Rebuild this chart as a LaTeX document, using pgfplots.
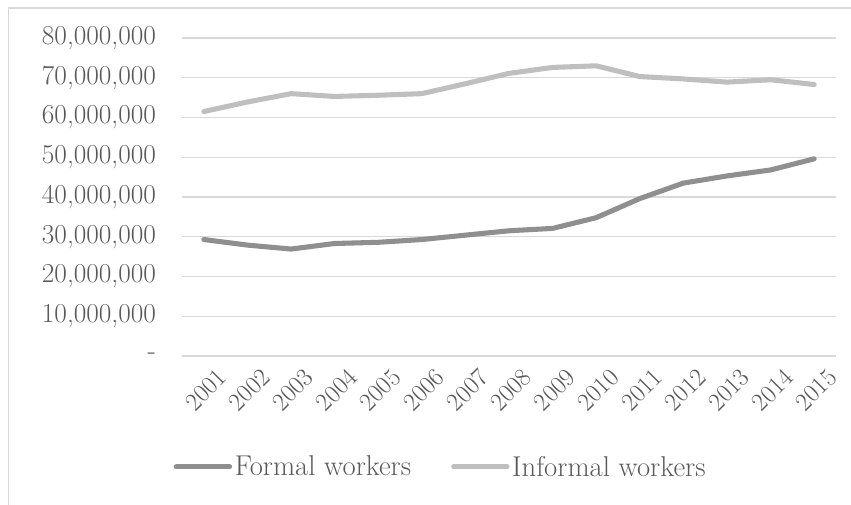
\documentclass[border=0pt]{standalone}
\usepackage{pgfplots}
\pgfplotsset{compat=1.18}

\definecolor{txtgray}{HTML}{595959}
\definecolor{gridgray}{HTML}{D9D9D9}
\definecolor{formal}{HTML}{8F8F8F}
\definecolor{informal}{HTML}{BFBFBF}

% workers per year, 2001..2015 at x = 0..14
\pgfplotstableread{
x formal informal
0  29300000 61500000
1  27900000 63900000
2  26900000 66000000
3  28300000 65300000
4  28600000 65600000
5  29300000 66000000
6  30400000 68500000
7  31500000 71100000
8  32100000 72600000
9  34800000 73000000
10 39600000 70300000
11 43500000 69700000
12 45300000 68900000
13 46800000 69500000
14 49600000 68300000
}\workers

\begin{document}
\begin{tikzpicture}
% 1 px of the reference = 0.75pt
\useasboundingbox (0pt,0pt) rectangle (638.25pt,378.75pt);
\draw[gridgray, line width=1.2pt] (6.4pt,0pt) -- (6.4pt,372.75pt) -- (638.25pt,372.75pt);
\begin{axis}[
    at={(136.5pt,111.75pt)}, anchor=south west,
    scale only axis,
    width=490.5pt, height=238.5pt,
    xmin=-0.5, xmax=14.5,
    ymin=0, ymax=80000000,
    axis line style={draw=none},
    major tick length=0pt,
    xtick={0,...,14},
    xticklabels={2001,2002,2003,2004,2005,2006,2007,2008,2009,2010,2011,2012,2013,2014,2015},
    xticklabel style={rotate=45, anchor=north east, xshift=4pt, yshift=-9pt,
        font=\fontsize{19}{22}\selectfont},
    ytick={0,10000000,20000000,30000000,40000000,50000000,60000000,70000000,80000000},
    yticklabels={{-},{10,000,000},{20,000,000},{30,000,000},{40,000,000},{50,000,000},{60,000,000},{70,000,000},{80,000,000}},
    yticklabel style={xshift=-16pt, font=\fontsize{20.5}{24}\selectfont},
    scaled y ticks=false,
    ymajorgrids,
    grid style={gridgray, line width=1.1pt},
    ticklabel style={text=txtgray},
    legend columns=2,
    legend style={at={(0.396,-0.349)}, anchor=center, draw=none, fill=none,
        font=\fontsize{21.5}{26}\selectfont, text=txtgray,
        /tikz/every even column/.append style={column sep=28pt}},
    legend image code/.code={\draw[#1] (0pt,0pt) -- (40pt,0pt);},
    every axis plot/.append style={line width=3.8pt, line join=round, line cap=round},
]
\addplot[formal] table[x=x, y=formal] {\workers};
\addlegendentry{Formal workers}
\addplot[informal] table[x=x, y=informal] {\workers};
\addlegendentry{Informal workers}
\end{axis}
\end{tikzpicture}
\end{document}
